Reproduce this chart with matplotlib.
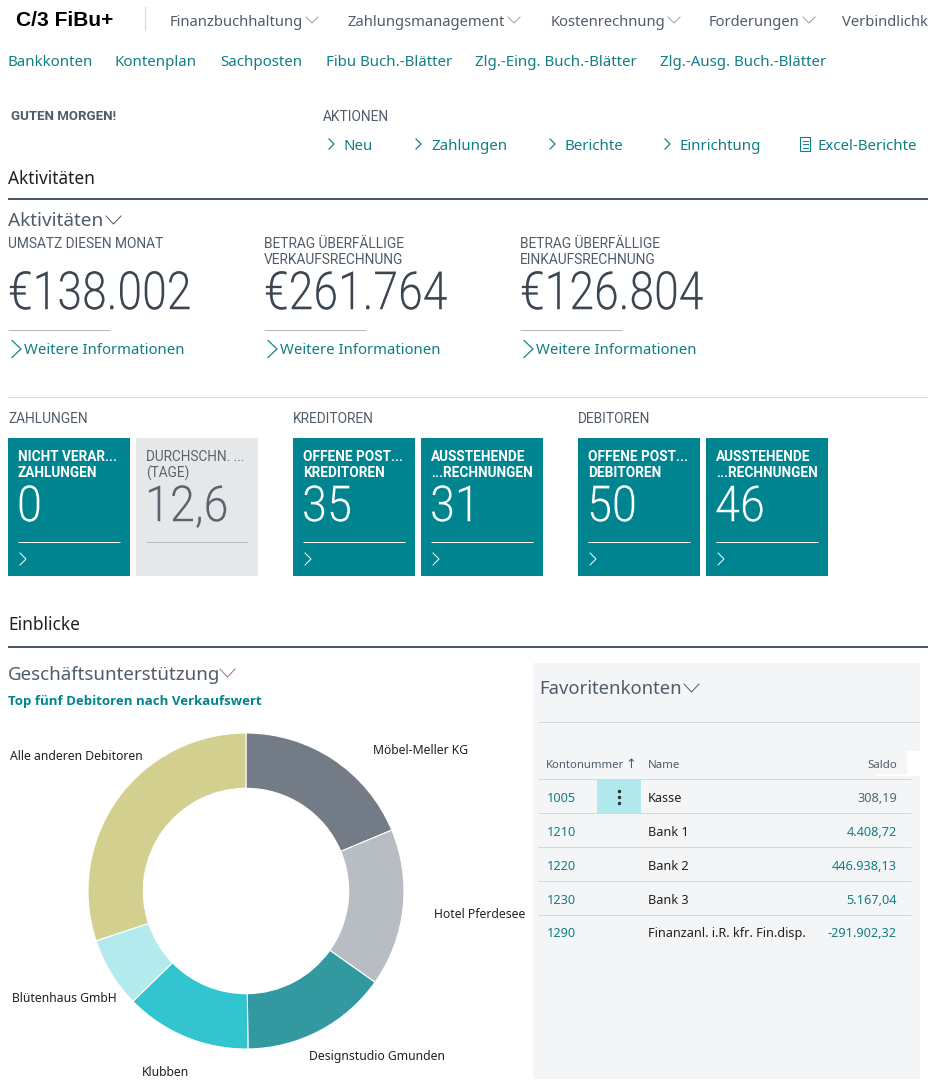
import matplotlib
matplotlib.use("Agg")
import matplotlib.pyplot as plt
import matplotlib.patheffects as pe
from matplotlib.patches import Rectangle
from matplotlib.transforms import Affine2D

W, H = 929, 1080
TEAL = "#00848f"
LINK = "#0f7f85"
GREY = "#505c69"
DARK = "#212121"
UI = ["Noto Sans", "DejaVu Sans"]
DIN = ["Roboto", "DejaVu Sans"]

#%% data
menu_labels = ["Finanzbuchhaltung", "Zahlungsmanagement", "Kostenrechnung", "Forderungen", "Verbindlichk"]
menu_x = [170, 348, 551, 709, 842]
menu_chev = [306, 508, 668, 803]
link_labels = ["Bankkonten", "Kontenplan", "Sachposten", "Fibu Buch.-Blätter", "Zlg.-Eing. Buch.-Blätter", "Zlg.-Ausg. Buch.-Blätter"]
link_x = [8, 115, 220, 326, 475, 660]
action_labels = ["Neu", "Zahlungen", "Berichte", "Einrichtung"]
action_x = [344, 431, 565, 680]

kpi_titles = [["UMSATZ DIESEN MONAT"],
              ["BETRAG ÜBERFÄLLIGE", "VERKAUFSRECHNUNG"],
              ["BETRAG ÜBERFÄLLIGE", "EINKAUFSRECHNUNG"]]
kpi_values = ["€138.002", "€261.764", "€126.804"]
kpi_x = [8, 264, 520]

section_labels = ["ZAHLUNGEN", "KREDITOREN", "DEBITOREN"]
section_x = [8, 293, 578]
tile_x = [8, 136, 293, 421, 578, 706]
tile_line1 = ["NICHT VERAR...", "DURCHSCHN. ...", "OFFENE POST...", "AUSSTEHENDE", "OFFENE POST...", "AUSSTEHENDE"]
tile_line2 = ["ZAHLUNGEN", "(TAGE)", "KREDITOREN", "...RECHNUNGEN", "DEBITOREN", "...RECHNUNGEN"]
tile_values = ["0", "12,6", "35", "31", "50", "46"]

customers = ["Möbel-Meller KG", "Hotel Pferdesee", "Designstudio Gmunden", "Klubben", "Blütenhaus GmbH", "Alle anderen Debitoren"]
shares = [18.7, 16.1, 15.0, 12.9, 7.2, 30.1]
share_colors = ["#737b87", "#b8bcc3", "#3399a1", "#33c5cf", "#b3eaed", "#d3cf8f"]
label_x = [373, 434, 309, 142, 12, 10]
label_y = [749, 913, 1055, 1071, 997, 755]

konto = ["1005", "1210", "1220", "1230", "1290"]
namen = ["Kasse", "Bank 1", "Bank 2", "Bank 3", "Finanzanl. i.R. kfr. Fin.disp."]
saldo = ["308,19", "4.408,72", "446.938,13", "5.167,04", "-291.902,32"]
row_y = [797, 831, 865, 899, 932]

#%%
fig = plt.figure(figsize=(W / 100, H / 100), dpi=100, facecolor="white")
ax = fig.add_axes([0, 0, 1, 1])
ax.set_xlim(0, W)
ax.set_ylim(H, 0)
ax.axis("off")


class Condense(pe.AbstractPathEffect):
    # staucht den text horizontal, die grossen zahlen sind im original schmal
    def __init__(self, x0, sx):
        super().__init__()
        self.x0 = x0
        self.sx = sx

    def draw_path(self, renderer, gc, tpath, affine, rgbFace=None):
        squeeze = Affine2D().translate(-self.x0, 0).scale(self.sx, 1).translate(self.x0, 0)
        renderer.draw_path(gc, tpath, affine + squeeze, rgbFace)


def txt(x, y, s, px=14, color=DARK, family=UI, ha="left", **kw):
    off = 2.5 if family is UI else 1.5
    return ax.text(x, y + off, s, fontsize=px * 0.72, color=color, family=family, ha=ha, va="center", **kw)


def big(x, y, s, px, color, sx):
    t = txt(x, y, s, px=px, color=color, family=DIN, fontweight=300)
    t.set_path_effects([Condense(x, sx)])


def hline(y, x0, x1, color="#d5d8dc", lw=1):
    ax.plot([x0, x1], [y, y], color=color, lw=lw * 0.72, solid_capstyle="butt")


def chev_down(x, y, w=12, h=6, color="#9aa1a9", lw=1):
    ax.plot([x, x + w / 2, x + w], [y - h / 2, y + h / 2, y - h / 2], color=color, lw=lw * 0.72)


def chev_right(x, y, w=5, h=10, color=LINK, lw=1.2):
    ax.plot([x, x + w, x], [y - h / 2, y, y + h / 2], color=color, lw=lw * 0.72)


# kopfzeile
txt(16, 19, "C/3 FiBu+", px=21, color="black", family=["Liberation Sans"], fontweight="bold")
ax.plot([145, 145], [7, 30], color="#d5d8dc", lw=0.8)
for s, x in zip(menu_labels, menu_x):
    txt(x, 19.5, s, px=14.8, color=GREY)
for x in menu_chev:
    chev_down(x, 20)
for s, x in zip(link_labels, link_x):
    txt(x, 60, s, px=15, color=LINK)

txt(11, 115.5, "GUTEN MORGEN!", px=13.3, color=GREY, family=DIN, fontweight="bold")
txt(323, 115.5, "AKTIONEN", px=13.7, color=GREY, family=DIN)
for s, x in zip(action_labels, action_x):
    txt(x, 143.5, s, px=15, color=LINK)
    chev_right(x - 15, 144)
ax.add_patch(Rectangle((800.5, 137), 10, 14, fill=False, ec=LINK, lw=0.8))
for y in [140.5, 144, 147.5]:
    ax.plot([803, 808.5], [y, y], color=LINK, lw=0.7)
txt(818, 143.5, "Excel-Berichte", px=15, color=LINK)

txt(8, 176, "Aktivitäten", px=17.3)
hline(199, 8, 929, color="#4d5a68", lw=2)

txt(8, 219, "Aktivitäten", px=19, color=GREY)
chev_down(106, 220, w=15, h=8, color=GREY)
for tt, val, x in zip(kpi_titles, kpi_values, kpi_x):
    for i, t in enumerate(tt):
        txt(x, 243 + 16 * i, t, px=13.7, color=GREY, family=DIN)
    big(x, 293, val, 53, "#3c4650", 0.84)
    hline(329.5, x, x + 102, color="#b5b9be")
    chev_right(x + 4, 349, w=9, h=17)
    txt(x + 16, 347.5, "Weitere Informationen", px=14.9, color=LINK)

hline(396.5, 8, 929)
for s, x in zip(section_labels, section_x):
    txt(x, 417.5, s, px=13.7, color=GREY, family=DIN)

for i, x in enumerate(tile_x):
    grey = i == 1
    fg = "#5a6470" if grey else "white"
    bg = "#e6e7e9" if grey else TEAL
    ax.add_patch(Rectangle((x, 438), 122, 138, fc=bg, ec="none"))
    weight = "normal" if grey else "bold"
    txt(x + 10, 455.5, tile_line1[i], px=13.6, color=fg, family=DIN, fontweight=weight)
    txt(x + 10, 471.5, tile_line2[i], px=13.6, color=fg, family=DIN, fontweight=weight)
    big(x + 9, 506, tile_values[i], 50, fg, 0.9)
    hline(541.5, x + 10, x + 112, color="#b5b9be" if grey else "white")
    if not grey:
        chev_right(x + 12, 559, w=6, h=12, color="white", lw=1)

txt(8, 623, "Einblicke", px=17.3)
hline(647, 8, 929, color="#4d5a68", lw=2)
txt(8, 672, "Geschäftsunterstützung", px=18.7, color=GREY)
chev_down(220, 673, w=15, h=8, color="#a8706f")
txt(8, 700, "Top fünf Debitoren nach Verkaufswert", px=13.2, color=TEAL, family=["Open Sans"], fontweight="bold")

# donut
cx, cy, r = 246, 891, 158
pie_ax = fig.add_axes([(cx - r) / W, 1 - (cy + r) / H, 2 * r / W, 2 * r / H])
pie_ax.pie(shares, colors=share_colors, startangle=90, counterclock=False, radius=1,
           wedgeprops={"width": 0.35, "edgecolor": "white", "linewidth": 0.8})
pie_ax.set_xlim(-1, 1)
pie_ax.set_ylim(-1, 1)
for s, x, y in zip(customers, label_x, label_y):
    txt(x, y - 1, s, px=12.2)

# favoriten
ax.add_patch(Rectangle((533, 663), 387, 416, fc="#f4f5f7", ec="none"))
ax.add_patch(Rectangle((907, 751), 13, 25, fc="white", ec="none"))
ax.add_patch(Rectangle((876, 774), 31, 2, fc="white", ec="none"))
txt(539, 687, "Favoritenkonten", px=18.5, color=GREY)
chev_down(684, 688, w=15, h=8, color=GREY)
hline(722, 538, 920)
txt(546, 763, "Kontonummer", px=11.3, color=GREY)
txt(625, 762, "↑", px=13, color=GREY)
txt(648, 763, "Name", px=11.5, color=GREY)
txt(897, 763, "Saldo", px=11.5, color=GREY, ha="right")
ax.add_patch(Rectangle((597, 780), 44, 33, fc="#b2e9ec", ec="none"))
for y in [791, 797, 803]:
    ax.plot([619], [y], "o", ms=1.5, color="#333333")
for y in [779, 813, 847, 881, 915]:
    hline(y, 538, 911)
for i, y in enumerate(row_y):
    txt(547, y - 1, konto[i], px=12.7, color=LINK)
    txt(648, y - 1, namen[i], px=12.7)
    txt(897, y - 1, saldo[i], px=12.7, color="#4a6a72" if i == 0 else LINK, ha="right")

plt.savefig("out.png", dpi=100)
